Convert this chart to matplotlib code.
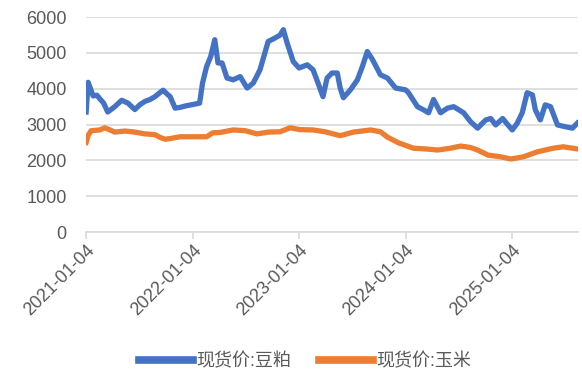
import pandas as pd
import matplotlib.pyplot as plt
import matplotlib.dates as mdates

plt.rcParams['font.family'] = ['Liberation Sans', 'Noto Sans CJK SC']

# 现货价:豆粕 (approx.)
meal_dates = ['2021-01-04', '2021-01-11', '2021-01-28', '2021-02-10', '2021-02-20', '2021-03-05',
              '2021-03-19', '2021-04-12', '2021-05-06', '2021-05-27', '2021-06-20', '2021-07-08',
              '2021-07-25', '2021-08-11', '2021-08-28', '2021-09-15', '2021-09-25', '2021-10-09',
              '2021-10-19', '2021-11-05', '2021-11-22', '2021-12-10', '2022-01-04', '2022-01-28',
              '2022-02-07', '2022-02-21', '2022-03-07', '2022-03-21', '2022-04-01', '2022-04-15',
              '2022-05-02', '2022-05-23', '2022-06-16', '2022-07-10', '2022-07-31', '2022-08-23',
              '2022-09-20', '2022-10-14', '2022-10-31', '2022-11-11', '2022-11-24', '2022-12-15',
              '2023-01-04', '2023-02-01', '2023-02-21', '2023-03-10', '2023-03-27', '2023-04-10',
              '2023-04-27', '2023-05-15', '2023-05-25', '2023-06-05', '2023-06-29', '2023-07-23',
              '2023-08-09', '2023-08-26', '2023-09-13', '2023-10-10', '2023-11-03', '2023-12-01',
              '2024-01-04', '2024-01-14', '2024-02-14', '2024-03-06', '2024-03-23', '2024-04-09',
              '2024-05-03', '2024-05-27', '2024-06-17', '2024-07-21', '2024-08-14', '2024-09-07',
              '2024-10-05', '2024-10-22', '2024-11-08', '2024-12-02', '2024-12-20', '2025-01-04',
              '2025-01-21', '2025-02-07', '2025-02-24', '2025-03-14', '2025-03-24', '2025-04-10',
              '2025-04-27', '2025-05-15', '2025-06-08', '2025-07-05', '2025-07-29', '2025-08-15']
meal_vals = [3350, 4180, 3800, 3820, 3720, 3600,
             3350, 3500, 3680, 3600, 3420, 3560,
             3650, 3700, 3780, 3900, 3960, 3850,
             3780, 3460, 3480, 3520, 3560, 3600,
             4160, 4620, 4900, 5370, 4720, 4720,
             4300, 4250, 4340, 4020, 4160, 4530,
             5320, 5420, 5500, 5650, 5280, 4760,
             4580, 4670, 4530, 4160, 3780, 4300,
             4440, 4440, 4020, 3750, 3970, 4250,
             4620, 5040, 4810, 4390, 4300, 4020,
             3970, 3890, 3500, 3410, 3330, 3700,
             3330, 3460, 3500, 3330, 3080, 2900,
             3130, 3170, 2990, 3170, 2990, 2850,
             3040, 3330, 3890, 3830, 3410, 3130,
             3550, 3500, 2990, 2940, 2900, 3040]

# 现货价:玉米
corn_dates = ['2021-01-04', '2021-01-11', '2021-01-21', '2021-02-20', '2021-03-09', '2021-03-27',
              '2021-04-12', '2021-05-17', '2021-06-20', '2021-07-25', '2021-08-28', '2021-09-15',
              '2021-10-02', '2021-10-26', '2021-11-22', '2022-01-04', '2022-02-21', '2022-03-14',
              '2022-04-08', '2022-05-23', '2022-07-03', '2022-08-13', '2022-09-20', '2022-10-31',
              '2022-12-04', '2023-01-07', '2023-02-21', '2023-04-03', '2023-05-25', '2023-07-09',
              '2023-09-06', '2023-10-10', '2023-11-03', '2023-12-11', '2024-01-04', '2024-01-31',
              '2024-03-13', '2024-04-23', '2024-06-06', '2024-07-11', '2024-08-14', '2024-09-07',
              '2024-10-12', '2024-11-25', '2024-12-30', '2025-02-11', '2025-03-31', '2025-05-24',
              '2025-06-28', '2025-08-15']
corn_vals = [2500, 2700, 2830, 2850, 2910, 2850,
             2790, 2820, 2790, 2740, 2720, 2640,
             2590, 2620, 2660, 2660, 2660, 2770,
             2780, 2850, 2830, 2740, 2790, 2800,
             2910, 2860, 2850, 2800, 2690, 2790,
             2850, 2800, 2650, 2490, 2420, 2340,
             2320, 2290, 2340, 2400, 2360, 2290,
             2150, 2100, 2040, 2100, 2240, 2340,
             2380, 2320]

tick_dates = ['2021-01-04', '2022-01-04', '2023-01-04', '2024-01-04', '2025-01-04']

fig = plt.figure(figsize=(5.82, 3.81), dpi=100)
ax = fig.add_axes([0.148, 0.391, 0.845, 0.564])

ax.plot(pd.to_datetime(meal_dates), meal_vals, color='#4472C4', lw=3.8,
        solid_joinstyle='round', label='现货价:豆粕', zorder=3)
ax.plot(pd.to_datetime(corn_dates), corn_vals, color='#ED7D31', lw=3.8,
        solid_joinstyle='round', label='现货价:玉米', zorder=3)

ax.set_ylim(0, 6000)
ax.set_yticks(range(0, 6001, 1000))
ax.set_xlim(pd.Timestamp('2021-01-04'), pd.Timestamp('2025-08-17'))
ax.set_xticks(pd.to_datetime(tick_dates))
ax.xaxis.set_major_formatter(mdates.DateFormatter('%Y-%m-%d'))

ax.grid(axis='y', color='#d9d9d9', lw=1.2)
ax.set_axisbelow(True)
for s in ['top', 'right', 'left']:
    ax.spines[s].set_visible(False)
ax.spines['bottom'].set_color('#d9d9d9')
ax.spines['bottom'].set_linewidth(1.2)

ax.tick_params(axis='y', length=0, labelsize=13, labelcolor='#595959', pad=14)
ax.tick_params(axis='x', length=5, width=1.2, color='#d9d9d9', labelsize=13,
               labelcolor='#595959', pad=2)
plt.setp(ax.get_xticklabels(), rotation=45, ha='right', rotation_mode='anchor')

fig.legend(loc='center', bbox_to_anchor=(305 / 582, 1 - 362 / 381), ncol=2, frameon=False,
           fontsize=13, handlelength=3.0, handletextpad=0.2, columnspacing=1.5,
           labelcolor='#595959')
for line in fig.legends[0].get_lines():
    line.set_linewidth(5.5)

fig.savefig('out.png', dpi=100)
